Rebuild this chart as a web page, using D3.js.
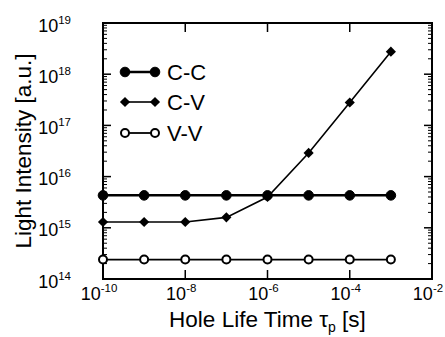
<!DOCTYPE html>
<html>
<head>
<meta charset="utf-8">
<script src="https://cdn.jsdelivr.net/npm/d3@7"></script>
<style>
  body { margin: 0; background: #fff; }
  svg { display: block; font-family: "Liberation Sans", Arial, sans-serif; }
</style>
</head>
<body>
<svg id="chart" width="445" height="337"></svg>
<script>
// data
const times = [1e-10, 1e-9, 1e-8, 1e-7, 1e-6, 1e-5, 1e-4, 1e-3];
const ccValues = [4.3e15, 4.3e15, 4.3e15, 4.3e15, 4.3e15, 4.3e15, 4.3e15, 4.3e15];
const cvValues = [1.3e15, 1.3e15, 1.3e15, 1.6e15, 4.0e15, 2.9e16, 2.8e17, 2.75e18];
const vvValues = [2.4e14, 2.4e14, 2.4e14, 2.4e14, 2.4e14, 2.4e14, 2.4e14, 2.4e14];
const seriesNames = ["C-C", "C-V", "V-V"];
const xTickExps = [-10, -8, -6, -4, -2];
const yTickExps = [14, 15, 16, 17, 18, 19];

const margin = { left: 103, right: 13, top: 23, bottom: 58 };
const width = 445, height = 337;
const svg = d3.select("#chart");

const x = d3.scaleLog().domain([1e-10, 1e-2]).range([margin.left, width - margin.right]);
const y = d3.scaleLog().domain([1e14, 1e19]).range([height - margin.bottom, margin.top]);

const x0 = x.range()[0], x1 = x.range()[1];
const y0 = y.range()[0], y1 = y.range()[1];

// minor y ticks (2..9 each decade)
const yMinor = [];
for (let e = 14; e < 19; e++) {
  for (let m = 2; m <= 9; m++) yMinor.push(m * Math.pow(10, e));
}

const ticks = svg.append("g").attr("stroke", "#000");
// left and right y ticks
yTickExps.forEach(e => {
  const yy = y(Math.pow(10, e));
  ticks.append("line").attr("x1", x0).attr("x2", x0 + 8).attr("y1", yy).attr("y2", yy).attr("stroke-width", 1.5);
  ticks.append("line").attr("x1", x1).attr("x2", x1 - 8).attr("y1", yy).attr("y2", yy).attr("stroke-width", 1.5);
});
yMinor.forEach(v => {
  const yy = y(v);
  ticks.append("line").attr("x1", x0).attr("x2", x0 + 4).attr("y1", yy).attr("y2", yy).attr("stroke-width", 1);
  ticks.append("line").attr("x1", x1).attr("x2", x1 - 4).attr("y1", yy).attr("y2", yy).attr("stroke-width", 1);
});
// bottom and top x ticks
xTickExps.forEach(e => {
  const xx = x(Math.pow(10, e));
  ticks.append("line").attr("x1", xx).attr("x2", xx).attr("y1", y0).attr("y2", y0 - 9).attr("stroke-width", 1.5);
  ticks.append("line").attr("x1", xx).attr("x2", xx).attr("y1", y1).attr("y2", y1 + 9).attr("stroke-width", 1.5);
});

// frame
svg.append("rect")
  .attr("x", x0).attr("y", y1)
  .attr("width", x1 - x0).attr("height", y0 - y1)
  .attr("fill", "none").attr("stroke", "#000").attr("stroke-width", 2);

// y tick labels
yTickExps.forEach(e => {
  const t = svg.append("text")
    .attr("x", 71).attr("y", y(Math.pow(10, e)) + 8.5)
    .attr("text-anchor", "end").attr("font-size", 18);
  t.append("tspan").text("10");
  t.append("tspan").attr("dy", -8).attr("font-size", 11.5).text(e);
});

// x tick labels
xTickExps.forEach(e => {
  const t = svg.append("text")
    .attr("x", x(Math.pow(10, e)) - 4).attr("y", y0 + 21)
    .attr("text-anchor", "middle").attr("font-size", 18);
  t.append("tspan").text("10");
  t.append("tspan").attr("dy", -8).attr("font-size", 11.5).text(e);
});

// axis titles
const xt = svg.append("text")
  .attr("x", (x0 + x1) / 2).attr("y", 327)
  .attr("text-anchor", "middle").attr("font-size", 22.5);
xt.append("tspan").text("Hole Life Time \u03C4");
xt.append("tspan").attr("dy", 5).attr("font-size", 14).text("p");
xt.append("tspan").attr("dy", -5).text(" [s]");

svg.append("text")
  .attr("transform", `translate(31,${(y0 + y1) / 2}) rotate(-90)`)
  .attr("text-anchor", "middle").attr("font-size", 22.5)
  .text("Light Intensity [a.u.]");

// series
const series = [
  { name: seriesNames[0], values: ccValues, shape: "circle", fill: "#000", lw: 2.5 },
  { name: seriesNames[1], values: cvValues, shape: "diamond", fill: "#000", lw: 1.6 },
  { name: seriesNames[2], values: vvValues, shape: "circle", fill: "#fff", lw: 1.8 }
];

const line = d3.line()
  .x(d => x(d[0])).y(d => y(d[1]));

function marker(g, shape, fill, cx, cy) {
  if (shape === "circle") {
    g.append("circle").attr("cx", cx).attr("cy", cy)
      .attr("r", fill === "#fff" ? 4 : 4.8)
      .attr("fill", fill).attr("stroke", "#000").attr("stroke-width", fill === "#fff" ? 2 : 1);
  } else {
    g.append("path")
      .attr("d", d3.symbol(d3.symbolDiamond2, 66)())
      .attr("transform", `translate(${cx},${cy})`)
      .attr("fill", fill);
  }
}

series.forEach(s => {
  const pts = times.map((t, i) => [t, s.values[i]]);
  const g = svg.append("g");
  g.append("path").datum(pts).attr("d", line)
    .attr("fill", "none").attr("stroke", "#000").attr("stroke-width", s.lw);
  pts.forEach(p => marker(g, s.shape, s.fill, x(p[0]), y(p[1])));
});

// legend
const legendY = [72, 102, 133];
series.forEach((s, i) => {
  const g = svg.append("g");
  const ly = legendY[i];
  g.append("line").attr("x1", 125).attr("x2", 155).attr("y1", ly).attr("y2", ly)
    .attr("stroke", "#000").attr("stroke-width", s.lw);
  marker(g, s.shape, s.fill, 125, ly);
  marker(g, s.shape, s.fill, 155, ly);
  g.append("text").attr("x", 167).attr("y", ly + 8)
    .attr("font-size", 22).text(s.name);
});
</script>
</body>
</html>
